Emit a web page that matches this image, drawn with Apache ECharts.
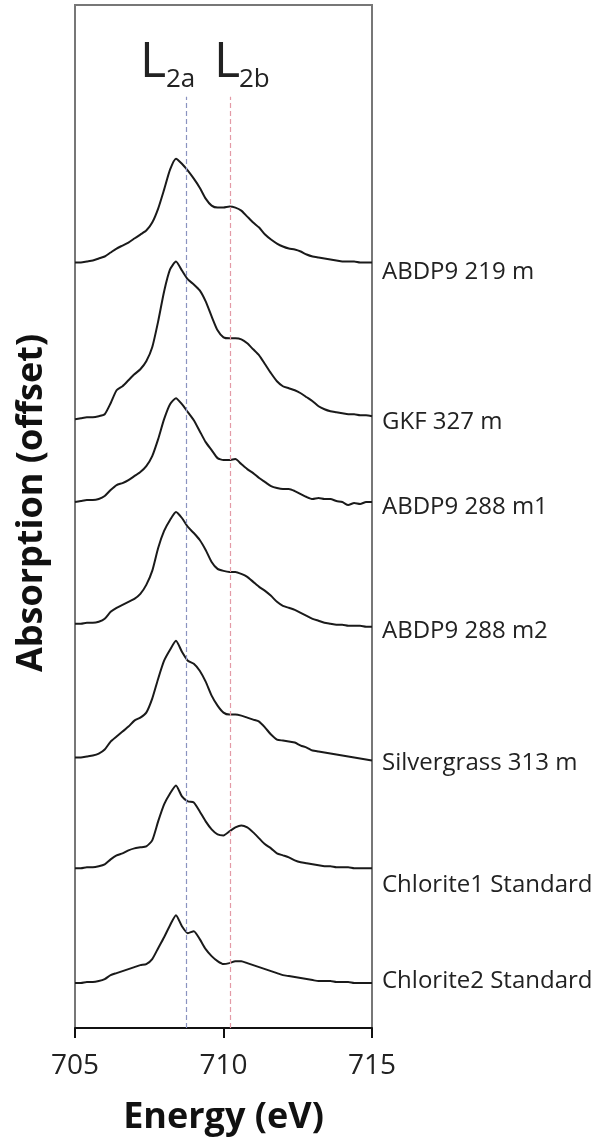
<!DOCTYPE html>
<html>
<head>
<meta charset="utf-8">
<script src="https://cdn.jsdelivr.net/npm/echarts@6/dist/echarts.min.js"></script>
<style>
  html, body { margin: 0; padding: 0; background: #fff; }
  #chart { width: 605px; height: 1141px; }
</style>
</head>
<body>
<div id="chart"></div>
<script>
// Fe L-edge XAS spectra, stacked with offsets
// ============================================

const energy = [
  705.0, 705.2, 705.4, 705.6, 705.8, 706.0, 706.2, 706.4, 706.6, 706.8,
  707.0, 707.2, 707.4, 707.6, 707.8, 708.0, 708.2, 708.4, 708.6, 708.8,
  709.0, 709.2, 709.4, 709.6, 709.8, 710.0, 710.2, 710.4, 710.6, 710.8,
  711.0, 711.2, 711.4, 711.6, 711.8, 712.0, 712.2, 712.4, 712.6, 712.8,
  713.0, 713.2, 713.4, 713.6, 713.8, 714.0, 714.2, 714.4, 714.6, 714.8,
  715.0,
]

const sampleNames = [
  'ABDP9 219 m',
  'GKF 327 m',
  'ABDP9 288 m1',
  'ABDP9 288 m2',
  'Silvergrass 313 m',
  'Chlorite1 Standard',
  'Chlorite2 Standard',
]

// absorption, already offset (arbitrary units)
const abdp9_219 = [
  767, 767, 768, 769, 771, 773, 777, 781, 784, 787, 791, 795, 799, 807, 821, 840, 860, 871, 866, 859,
  851, 842, 831, 824, 822, 822, 823, 822, 819, 813, 807, 802, 795, 790, 786, 783, 781, 780, 778, 775,
  773, 772, 771, 770, 769, 768, 768, 768, 767, 767, 767,
]
const gkf_327 = [
  610, 611, 612, 612, 613, 615, 626, 639, 643, 649, 655, 660, 668, 682, 708, 738, 760, 768, 759, 750,
  745, 739, 728, 713, 699, 692, 691, 691, 690, 686, 680, 674, 665, 656, 648, 643, 641, 639, 636, 632,
  628, 623, 620, 618, 617, 616, 615, 615, 614, 614, 613,
]
const abdp9_288_m1 = [
  527, 528, 529, 529, 530, 533, 539, 544, 546, 549, 553, 557, 563, 573, 590, 610, 625, 631, 625, 617,
  609, 598, 587, 579, 571, 569, 569, 570, 565, 560, 556, 551, 547, 543, 541, 540, 540, 538, 535, 532,
  530, 531, 530, 530, 528, 527, 524, 526, 525, 527, 527,
]
const abdp9_288_m2 = [
  405, 405, 406, 406, 407, 410, 417, 421, 424, 427, 430, 435, 444, 458, 481, 498, 509, 517, 511, 502,
  496, 489, 479, 467, 460, 458, 457, 457, 455, 452, 447, 442, 438, 433, 427, 423, 421, 419, 416, 413,
  410, 408, 406, 405, 404, 404, 403, 403, 403, 402, 402,
]
const silvergrass_313 = [
  271, 271, 272, 273, 275, 279, 287, 292, 297, 302, 308, 311, 316, 330, 350, 368, 379, 388, 377, 368,
  365, 358, 347, 333, 323, 316, 314, 314, 313, 311, 309, 307, 301, 294, 289, 288, 287, 286, 283, 281,
  278, 277, 276, 275, 274, 273, 272, 271, 270, 269, 268,
]
const chlorite1 = [
  160, 160, 161, 161, 162, 164, 169, 173, 175, 178, 180, 181, 182, 188, 207, 224, 235, 243, 232, 227,
  226, 217, 207, 199, 194, 193, 197, 201, 203, 201, 196, 190, 184, 180, 175, 173, 171, 168, 166, 165,
  164, 163, 162, 162, 161, 161, 161, 160, 160, 160, 160,
]
const chlorite2 = [
  45, 45, 46, 46, 47, 49, 53, 55, 57, 59, 61, 63, 64, 69, 80, 91, 103, 113, 102, 95,
  97, 89, 79, 72, 67, 64, 65, 67, 67, 65, 63, 61, 59, 57, 55, 53, 52, 51, 50, 49,
  48, 47, 47, 47, 46, 46, 46, 45, 45, 45, 45,
]

const spectra = [abdp9_219, gkf_327, abdp9_288_m1, abdp9_288_m2, silvergrass_313, chlorite1, chlorite2]

// reference edges (eV)
const edgeL2a = 708.73
const edgeL2b = 710.24

// --- styling
const FONT = '"Open Sans", "Noto Sans", sans-serif'
const INK = '#222'
const labelNudge = [10, 6, 5, 4, 3, 17, -2]

const series = spectra.map((vals, i) => ({
  type: 'line',
  name: sampleNames[i],
  data: vals.map((v, j) => [energy[j], v]),
  showSymbol: false,
  symbol: 'none',
  smooth: 0.2,
  lineStyle: { color: '#1a1a1a', width: 2 },
  endLabel: {
    show: true,
    formatter: p => p.seriesName,
    distance: 10,
    offset: [0, labelNudge[i]],
    fontFamily: FONT,
    fontSize: 24,
    color: INK,
  },
  z: 3,
}))

// dashed edge markers
series[0].markLine = {
  silent: true,
  symbol: 'none',
  label: { show: false },
  data: [
    [{ coord: [edgeL2a, 0], lineStyle: { color: '#8a93c0' } }, { coord: [edgeL2a, 933] }],
    [{ coord: [edgeL2b, 0], lineStyle: { color: '#e39aa6' } }, { coord: [edgeL2b, 933] }],
  ],
  lineStyle: { type: [5, 3], width: 1.2 },
}

const chart = echarts.init(document.getElementById('chart'), null, { renderer: 'canvas' })
chart.setOption({
  animation: false,
  backgroundColor: '#fff',
  grid: {
    left: 75, right: 233, top: 5, bottom: 111,
    show: true,
    borderColor: '#777',
    borderWidth: 2,
  },
  xAxis: {
    type: 'value',
    min: 705,
    max: 715,
    interval: 5,
    axisLine: { lineStyle: { color: '#111', width: 2 } },
    axisTick: { show: true, inside: false, length: 10, lineStyle: { color: '#111', width: 2 } },
    splitLine: { show: false },
    axisLabel: { fontFamily: FONT, fontSize: 28, color: INK, margin: 24 },
    name: 'Energy (eV)',
    nameLocation: 'middle',
    nameGap: 72,
    nameTextStyle: { fontFamily: FONT, fontSize: 36, fontWeight: 'bold', color: '#111' },
  },
  yAxis: {
    type: 'value',
    min: 0,
    max: 1025,
    show: false,
  },
  graphic: [
    {
      type: 'text', x: 32, y: 503, rotation: Math.PI / 2,
      style: {
        text: 'Absorption (offset)', fontFamily: FONT, fontSize: 36, fontWeight: 'bold',
        fill: '#111', align: 'center', verticalAlign: 'middle',
      },
    },
    { type: 'text', x: 140, y: 63, style: { text: 'L', fontFamily: FONT, fontSize: 50, fill: INK, verticalAlign: 'middle' } },
    { type: 'text', x: 166, y: 80, style: { text: '2a', fontFamily: FONT, fontSize: 26, fill: INK, verticalAlign: 'middle' } },
    { type: 'text', x: 214, y: 63, style: { text: 'L', fontFamily: FONT, fontSize: 50, fill: INK, verticalAlign: 'middle' } },
    { type: 'text', x: 239, y: 80, style: { text: '2b', fontFamily: FONT, fontSize: 26, fill: INK, verticalAlign: 'middle' } },
  ],
  series: series,
})
</script>
</body>
</html>
